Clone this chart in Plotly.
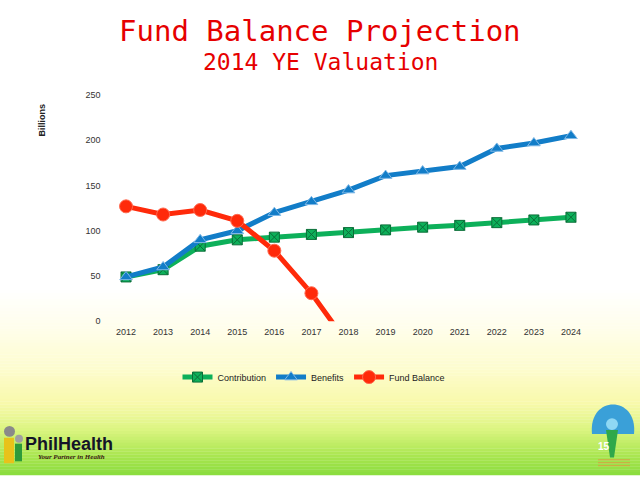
import plotly.graph_objects as go

# data
years = [2012, 2013, 2014, 2015, 2016, 2017, 2018, 2019, 2020, 2021, 2022, 2023, 2024]
contribution = [49, 57, 83, 90, 93, 96, 98, 101, 104, 106, 109, 112, 115]
benefits = [49, 60, 90, 100, 120, 132, 145, 161, 166, 171, 191, 197, 205]
fund_years = [2012, 2013, 2014, 2015, 2016, 2017, 2018]
fund_balance = [127, 118, 123, 111, 78, 31, -26]
y_ticks = [0, 50, 100, 150, 200, 250]

GREEN = "#0db05a"
BLUE = "#127dc8"
RED = "#ff2a0a"


def px(x):
    return x / 640


def py(y):
    return (480 - y) / 480


fig = go.Figure()

fig.add_trace(go.Scatter(
    x=years, y=contribution, name="Contribution", mode="lines+markers",
    line=dict(color=GREEN, width=5),
    marker=dict(symbol="square-x", size=10, color=GREEN, line=dict(color="#0a6e38", width=1)),
))
fig.add_trace(go.Scatter(
    x=years, y=benefits, name="Benefits", mode="lines+markers",
    line=dict(color=BLUE, width=5),
    marker=dict(symbol="triangle-up", size=11, color=BLUE, line=dict(color="#7fb8e6", width=1)),
))
fig.add_trace(go.Scatter(
    x=fund_years, y=fund_balance, name="Fund Balance", mode="lines+markers",
    line=dict(color=RED, width=5),
    marker=dict(symbol="circle", size=13, color=RED, line=dict(color="#ff6a50", width=1)),
))

# background: white top fading into yellow then green at the bottom (pixel row, rgb)
stops = [(480, (138, 220, 62)), (460, (170, 230, 80)), (433, (220, 245, 130)),
         (407, (248, 249, 170)), (373, (253, 252, 205)), (330, (255, 254, 235)),
         (290, (255, 255, 255)), (0, (255, 255, 255))]
for row in range(240, 480, 3):
    t = row + 1.5
    for (r0, c0), (r1, c1) in zip(stops[:-1], stops[1:]):
        if r1 <= t <= r0:
            f = (r0 - t) / (r0 - r1)
            col = tuple(round(a + (b - a) * f) for a, b in zip(c0, c1))
            break
    fig.add_shape(type="rect", xref="paper", yref="paper", x0=0, x1=1,
                  y0=py(row + 3.3), y1=py(row), layer="below",
                  line=dict(width=0), fillcolor="rgb(%d,%d,%d)" % col)

# PhilHealth logo (left bottom)
fig.add_shape(type="rect", xref="paper", yref="paper", x0=px(4), x1=px(14), y0=py(468), y1=py(442),
              fillcolor="#e8c21a", line=dict(width=0))
fig.add_shape(type="rect", xref="paper", yref="paper", x0=px(15), x1=px(22), y0=py(466), y1=py(448),
              fillcolor="#2e9a3a", line=dict(width=0))
fig.add_shape(type="circle", xref="paper", yref="paper", x0=px(4), x1=px(15), y0=py(441), y1=py(430),
              fillcolor="#8a8a8a", line=dict(width=0))
fig.add_shape(type="circle", xref="paper", yref="paper", x0=px(15), x1=px(23), y0=py(447), y1=py(439),
              fillcolor="#a0a0a0", line=dict(width=0))
fig.add_annotation(text="<b>PhilHealth</b>", xref="paper", yref="paper", x=px(23), y=py(448),
                   xanchor="left", yanchor="middle", showarrow=False,
                   font=dict(family="Liberation Sans", size=18, color="#141428"))
fig.add_annotation(text="<b><i>Your Partner in Health</i></b>", xref="paper", yref="paper", x=px(36), y=py(462),
                   xanchor="left", yanchor="middle", showarrow=False,
                   font=dict(family="Liberation Serif", size=7, color="#3a1a10"))

# anniversary logo (right bottom)
fig.add_shape(type="path", xref="paper", yref="paper",
              path="M %f %f C %f %f %f %f %f %f Z" % (px(592), py(438), px(588), py(398),
                                                      px(638), py(398), px(634), py(438)),
              fillcolor="#3aa0d8", line=dict(width=0))
fig.add_shape(type="circle", xref="paper", yref="paper", x0=px(606), x1=px(618), y0=py(434), y1=py(422),
              fillcolor="#8fd8f4", line=dict(width=0))
fig.add_shape(type="path", xref="paper", yref="paper",
              path="M %f %f L %f %f L %f %f L %f %f Z" % (px(606), py(434), px(618), py(434),
                                                          px(614), py(462), px(610), py(462)),
              fillcolor="#2fa84a", line=dict(width=0))
fig.add_annotation(text="<b>15</b>", xref="paper", yref="paper", x=px(596), y=py(451),
                   xanchor="left", yanchor="middle", showarrow=False,
                   font=dict(family="Liberation Sans", size=10, color="white"))
for k in range(3):
    fig.add_shape(type="rect", xref="paper", yref="paper", x0=px(598), x1=px(630),
                  y0=py(465 + k * 3), y1=py(464 + k * 3),
                  fillcolor="#d8a040", line=dict(width=0))

# titles
fig.add_annotation(text="Fund Balance Projection", xref="paper", yref="paper", x=0.5, y=py(27),
                   xanchor="center", yanchor="middle", showarrow=False,
                   font=dict(family="DejaVu Sans Mono", size=29, color="#e60000"))
fig.add_annotation(text="2014 YE Valuation", xref="paper", yref="paper", x=0.5, y=py(58),
                   xanchor="center", yanchor="middle", showarrow=False,
                   font=dict(family="DejaVu Sans Mono", size=23, color="#e60000"))
fig.add_annotation(text="<b>Billions</b>", xref="paper", yref="paper", x=px(42), y=py(118),
                   xanchor="center", yanchor="middle", textangle=-90, showarrow=False,
                   font=dict(family="Liberation Sans", size=9, color="#222222"))

fig.update_layout(
    width=640, height=480,
    margin=dict(l=0, r=0, t=0, b=0),
    paper_bgcolor="white", plot_bgcolor="rgba(0,0,0,0)",
    font=dict(family="Liberation Sans", size=9, color="#333333"),
    showlegend=True,
    legend=dict(orientation="h", x=px(314), xanchor="center", y=py(380), yanchor="middle",
                bgcolor="rgba(0,0,0,0)", font=dict(size=9, color="#222222"),
                itemwidth=30, tracegroupgap=0),
)
fig.update_xaxes(domain=[px(107.5), px(589.5)], range=[2011.5, 2024.5], tickvals=years,
                 showgrid=False, zeroline=False, showline=False, ticks="", ticklabelstandoff=4)
fig.update_yaxes(domain=[py(323), py(92)], range=[0, 250], tickvals=y_ticks,
                 showgrid=False, zeroline=False, showline=False, ticks="", ticklabelstandoff=6)

fig.write_html("out.html", config={"displayModeBar": False},
               post_script="document.body.style.margin='0';")
